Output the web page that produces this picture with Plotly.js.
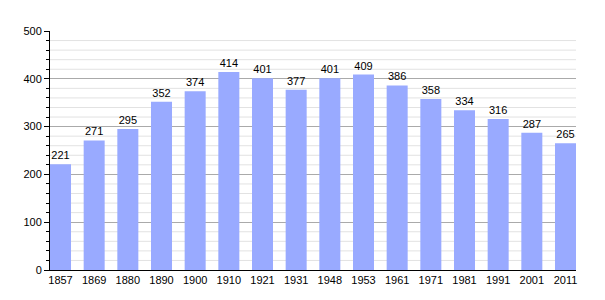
<!DOCTYPE html>
<html><head><meta charset="utf-8">
<script src="https://cdn.plot.ly/plotly-3.0.1.min.js"></script>
<style>html,body{margin:0;padding:0;background:#fff}#c{width:605px;height:300px}</style>
</head><body><div id="c"></div>
<script>
const years = ["1857","1869","1880","1890","1900","1910","1921","1931","1948","1953","1961","1971","1981","1991","2001","2011"];
const population = [221,271,295,352,374,414,401,377,401,409,386,358,334,316,287,265];
const yTicks = [0,100,200,300,400,500];

const bargap = 0.376;
const half = (1-bargap)/2;
const minorLines = [];
for (let v = 20; v < 500; v += 20) if (v % 100 !== 0) minorLines.push(v);

const shapes = minorLines.map(v => ({type:'line', xref:'paper', x0:0, x1:1, yref:'y', y0:v, y1:v, line:{color:'#e2e2e2', width:1}, layer:'below'}));

Plotly.newPlot('c', [{
  type:'bar', x: years, y: population,
  marker:{color:'#99aaff'},
  text: population.map(String), textposition:'outside', cliponaxis:false,
  textfont:{family:'Liberation Sans, Arial, sans-serif', size:11, color:'#000'},
  hoverinfo:'none'
}], {
  width:605, height:300,
  margin:{l:50, r:29, t:31, b:30},
  paper_bgcolor:'#fff', plot_bgcolor:'#fff',
  bargap: bargap,
  font:{family:'Liberation Sans, Arial, sans-serif', size:11, color:'#000'},
  shapes: shapes,
  xaxis:{type:'category', range:[-half, years.length-1+half], showgrid:false, zeroline:false,
    showline:true, linecolor:'#000', linewidth:1, ticks:'', tickfont:{size:11}, fixedrange:true},
  yaxis:{range:[0,500], tickvals:yTicks, ticktext:yTicks.map(String), showgrid:true, gridcolor:'#aaaaaa', gridwidth:1,
    zeroline:false, showline:true, linecolor:'#000', linewidth:1, ticks:'outside', ticklen:5, tickcolor:'#000',
    minor:{dtick:20, ticks:'outside', ticklen:3, tickcolor:'#000', showgrid:false},
    tickfont:{size:11}, fixedrange:true},
  showlegend:false
}, {staticPlot:true});
</script></body></html>
